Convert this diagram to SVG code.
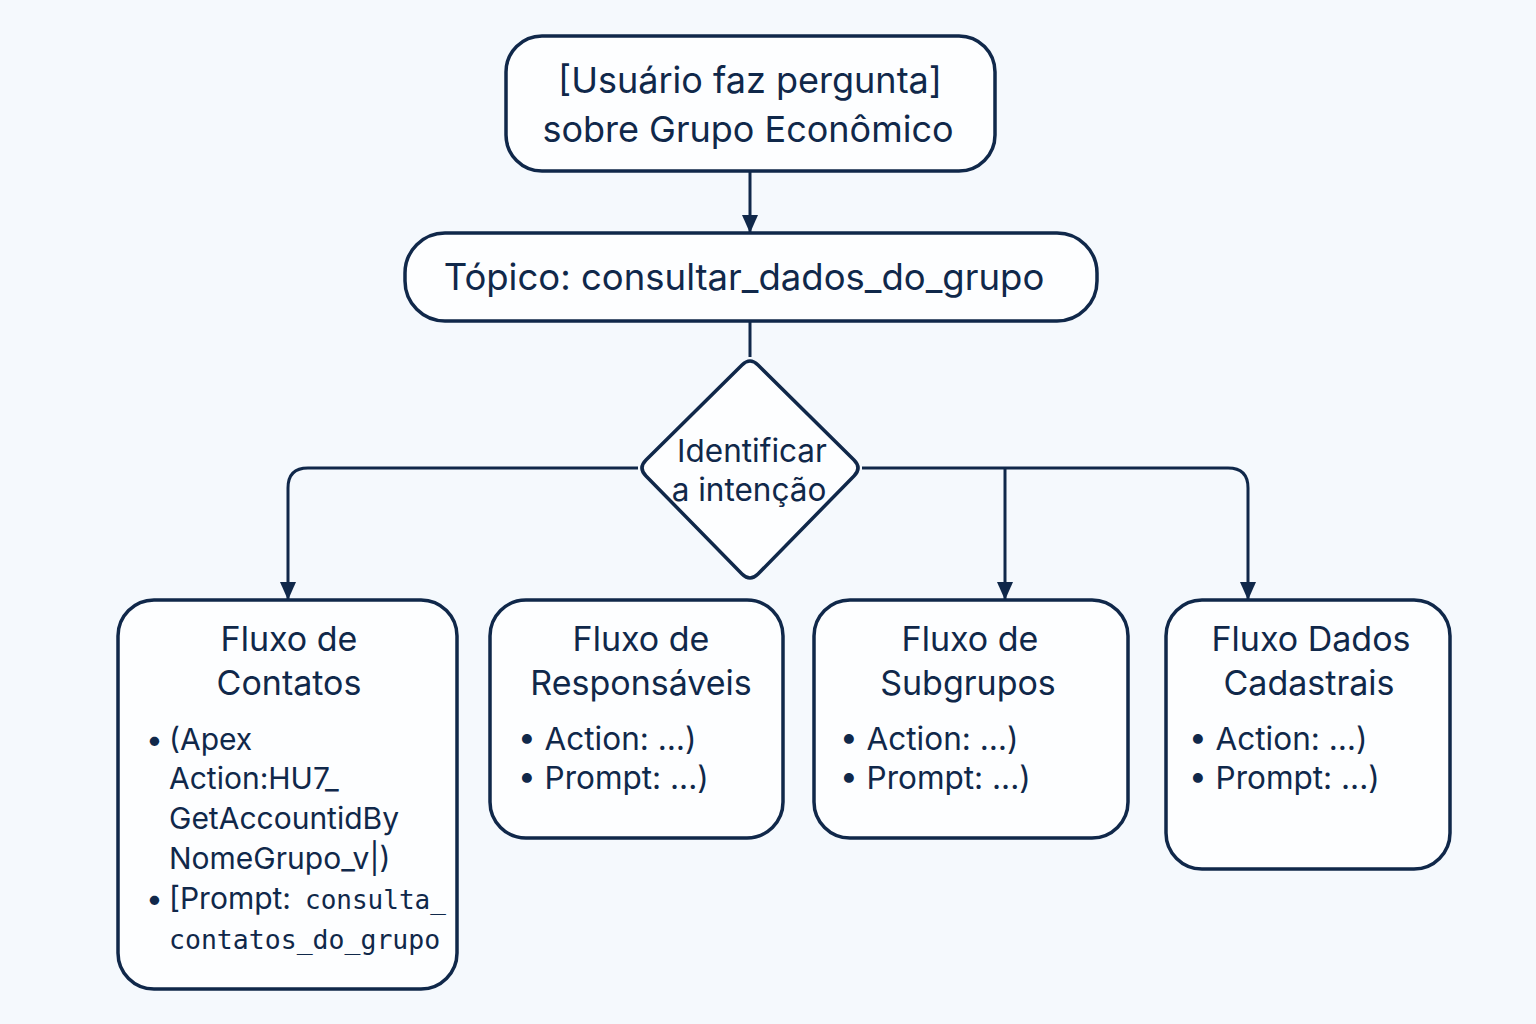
<svg xmlns="http://www.w3.org/2000/svg" width="1536" height="1024" viewBox="0 0 1536 1024">
<defs>
<style>
.box{fill:#fdfeff;stroke:#10284a;stroke-width:3.5}
.ln{fill:none;stroke:#10284a;stroke-width:3}
.t{font-family:Inter,"Noto Sans","DejaVu Sans",sans-serif;fill:#10284a}
.m{font-family:"DejaVu Sans Mono","Liberation Mono",monospace;fill:#10284a}
</style>
<marker id="ah" viewBox="0 0 18 16" refX="17" refY="8" markerWidth="18" markerHeight="16" markerUnits="userSpaceOnUse" orient="auto">
<path d="M0,0 L18,8 L0,16 Z" fill="#10284a"/>
</marker>
</defs>
<rect width="1536" height="1024" fill="#f5f9fd"/>
<g id="connectors">
<line class="ln" x1="750" y1="171" x2="750" y2="232" marker-end="url(#ah)"/>
<line class="ln" x1="750" y1="321" x2="750" y2="357"/>
<path class="ln" d="M638,468 H308 Q288,468 288,488 V599" marker-end="url(#ah)"/>
<path class="ln" d="M862,468 H1228 Q1248,468 1248,488 V599" marker-end="url(#ah)"/>
<line class="ln" x1="1005" y1="468" x2="1005" y2="599" marker-end="url(#ah)"/>
</g>
<g id="start">
<rect class="box" x="506" y="36" width="489" height="135" rx="36"/>
<text class="t" x="750" y="93" font-size="36" text-anchor="middle">[Usuário faz pergunta]</text>
<text class="t" x="748" y="142" font-size="36" text-anchor="middle">sobre Grupo Econômico</text>
</g>
<g id="topic">
<rect class="box" x="405" y="233" width="692" height="88" rx="40"/>
<text class="t" x="744" y="290" font-size="36.5" text-anchor="middle">Tópico: consultar_dados_do_grupo</text>
</g>
<g id="decision">
<path class="box" d="M742,365 Q750,357 758,365 L854,460 Q862,468 854,476 L758,574 Q750,582 742,574 L646,476 Q638,468 646,460 Z"/>
<text class="t" x="752" y="462" font-size="31.5" text-anchor="middle">Identificar</text>
<text class="t" x="749" y="501" font-size="31.5" text-anchor="middle">a intenção</text>
</g>
<g id="contatos">
<rect class="box" x="118" y="600" width="339" height="389" rx="36"/>
<text class="t" x="289" y="651" font-size="34" text-anchor="middle">Fluxo de</text>
<text class="t" x="289" y="695" font-size="34" text-anchor="middle">Contatos</text>
<text class="t" font-size="30">
<tspan x="146" y="750">•</tspan><tspan x="169" y="750">(Apex</tspan>
<tspan x="169" y="789">Action:HU7_</tspan>
<tspan x="169" y="829">GetAccountidBy</tspan>
<tspan x="169" y="869">NomeGrupo_v|)</tspan>
<tspan x="146" y="909">•</tspan><tspan x="169" y="909">[Prompt:</tspan>
</text>
<text class="m" x="305" y="909" font-size="26">consulta_</text>
<text class="m" x="169" y="949" font-size="26.5">contatos_do_grupo</text>
</g>
<g id="responsaveis">
<rect class="box" x="490" y="600" width="293" height="238" rx="36"/>
<text class="t" x="641" y="651" font-size="34" text-anchor="middle">Fluxo de</text>
<text class="t" x="641" y="695" font-size="34" text-anchor="middle">Responsáveis</text>
<text class="t" x="518" y="750" font-size="31.5">• Action: …)</text>
<text class="t" x="518" y="789" font-size="31.5">• Prompt: ...)</text>
</g>
<g id="subgrupos">
<rect class="box" x="814" y="600" width="314" height="238" rx="36"/>
<text class="t" x="970" y="651" font-size="34" text-anchor="middle">Fluxo de</text>
<text class="t" x="968" y="695" font-size="34" text-anchor="middle">Subgrupos</text>
<text class="t" x="840" y="750" font-size="31.5">• Action: …)</text>
<text class="t" x="840" y="789" font-size="31.5">• Prompt: ...)</text>
</g>
<g id="cadastrais">
<rect class="box" x="1166" y="600" width="284" height="269" rx="36"/>
<text class="t" x="1311" y="651" font-size="34" text-anchor="middle">Fluxo Dados</text>
<text class="t" x="1309" y="695" font-size="34" text-anchor="middle">Cadastrais</text>
<text class="t" x="1189" y="750" font-size="31.5">• Action: …)</text>
<text class="t" x="1189" y="789" font-size="31.5">• Prompt: ...)</text>
</g>
</svg>
